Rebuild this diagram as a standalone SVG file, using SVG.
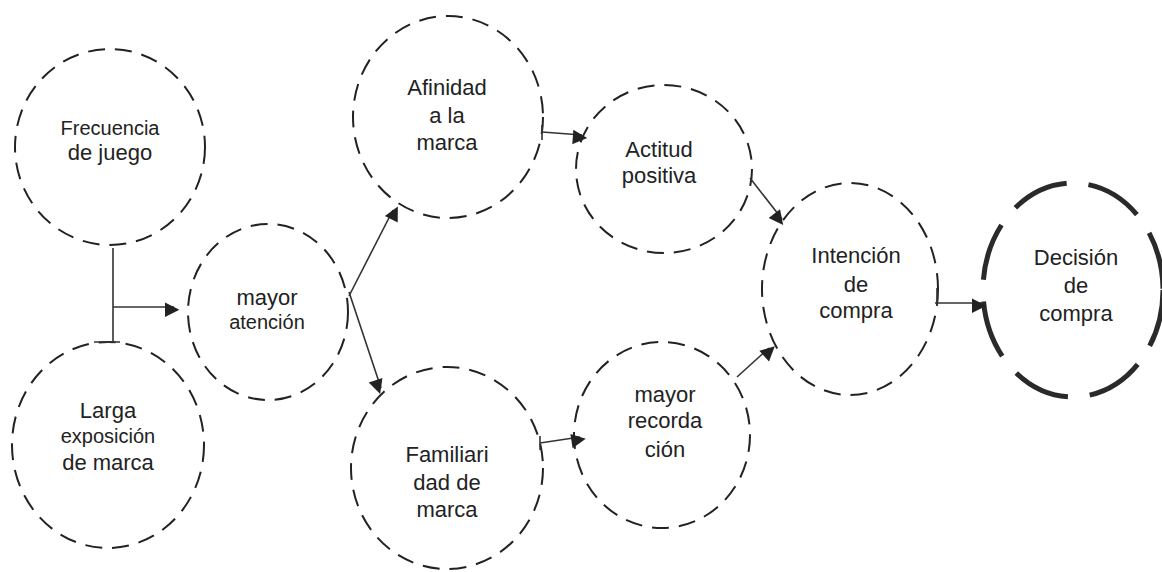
<svg xmlns="http://www.w3.org/2000/svg" width="1162" height="572" viewBox="0 0 1162 572">
<defs>
<style>
.c{fill:none;stroke:#222;stroke-width:2;stroke-dasharray:17 10}
.d{fill:none;stroke:#2a2a2a;stroke-width:5;stroke-dasharray:58 22}
.t{font-family:"Liberation Sans",Arial,sans-serif;font-size:22px;fill:#222;text-anchor:middle}
.s{font-size:20px}
.l{stroke:#333;stroke-width:1.6;fill:none}
</style>
<marker id="a" viewBox="0 0 10 10" refX="10" refY="5" markerWidth="9" markerHeight="9" markerUnits="userSpaceOnUse" orient="auto" style="overflow:visible">
<path d="M0,0 L10,5 L0,10 z" fill="#222" transform="scale(1.6)" />
</marker>
</defs>
<rect width="1162" height="572" fill="#fff"/>
<g id="n1"><ellipse class="c" cx="110" cy="147" rx="95" ry="98"/><text class="t" x="110" y="135"><tspan class="s">Frecuencia</tspan><tspan x="110" y="160">de juego</tspan></text></g>
<g id="n2"><ellipse class="c" cx="108" cy="445" rx="96" ry="103"/><text class="t" x="108" y="418">Larga<tspan class="s" x="108" y="443">exposición</tspan><tspan x="108" y="470">de marca</tspan></text></g>
<g id="n3"><ellipse class="c" cx="268" cy="312" rx="80" ry="88"/><text class="t" x="267" y="305">mayor<tspan class="s" x="267" y="329">atención</tspan></text></g>
<g id="n4"><ellipse class="c" cx="448" cy="117" rx="95" ry="101"/><text class="t" x="447" y="95">Afinidad<tspan x="447" y="123">a la</tspan><tspan x="447" y="150">marca</tspan></text></g>
<g id="n5"><ellipse class="c" cx="447" cy="468" rx="96" ry="101"/><text class="t" x="447" y="462">Familiari<tspan x="447" y="490">dad de</tspan><tspan x="447" y="517">marca</tspan></text></g>
<g id="n6"><ellipse class="c" cx="664" cy="169" rx="88" ry="84"/><text class="t" x="659" y="157">Actitud<tspan x="659" y="183">positiva</tspan></text></g>
<g id="n7"><ellipse class="c" cx="662" cy="435" rx="88" ry="93"/><text class="t" x="665" y="402">mayor<tspan x="665" y="428">recorda</tspan><tspan x="665" y="457">ción</tspan></text></g>
<g id="n8"><ellipse class="c" cx="850" cy="289" rx="88" ry="106"/><text class="t" x="856" y="263">Intención<tspan x="856" y="292">de</tspan><tspan x="856" y="318">compra</tspan></text></g>
<g id="n9"><ellipse class="d" cx="1073" cy="290" rx="90" ry="107"/><text class="t" x="1076" y="265">Decisión<tspan x="1076" y="293">de</tspan><tspan x="1076" y="321">compra</tspan></text></g>
<g id="connectors">
<path class="l" d="M113,248 V342 M94,342 H120"/>
<path class="l" d="M113,307 H174" marker-end="url(#a)"/>
<path class="l" d="M349,296 L393,210" marker-end="url(#a)"/>
<path class="l" d="M349,292 L381,388" marker-end="url(#a)"/>
<path class="l" d="M542,125 V140"/>
<path class="l" d="M542,132 L582,135" marker-end="url(#a)"/>
<path class="l" d="M750,178 L782,219" marker-end="url(#a)"/>
<path class="l" d="M540,436 V450"/>
<path class="l" d="M540,443 L580,437" marker-end="url(#a)"/>
<path class="l" d="M737,377 L769,348" marker-end="url(#a)"/>
<path class="l" d="M937,288 V305"/>
<path class="l" d="M935,303 L981,303" marker-end="url(#a)"/>
</g>
</svg>
